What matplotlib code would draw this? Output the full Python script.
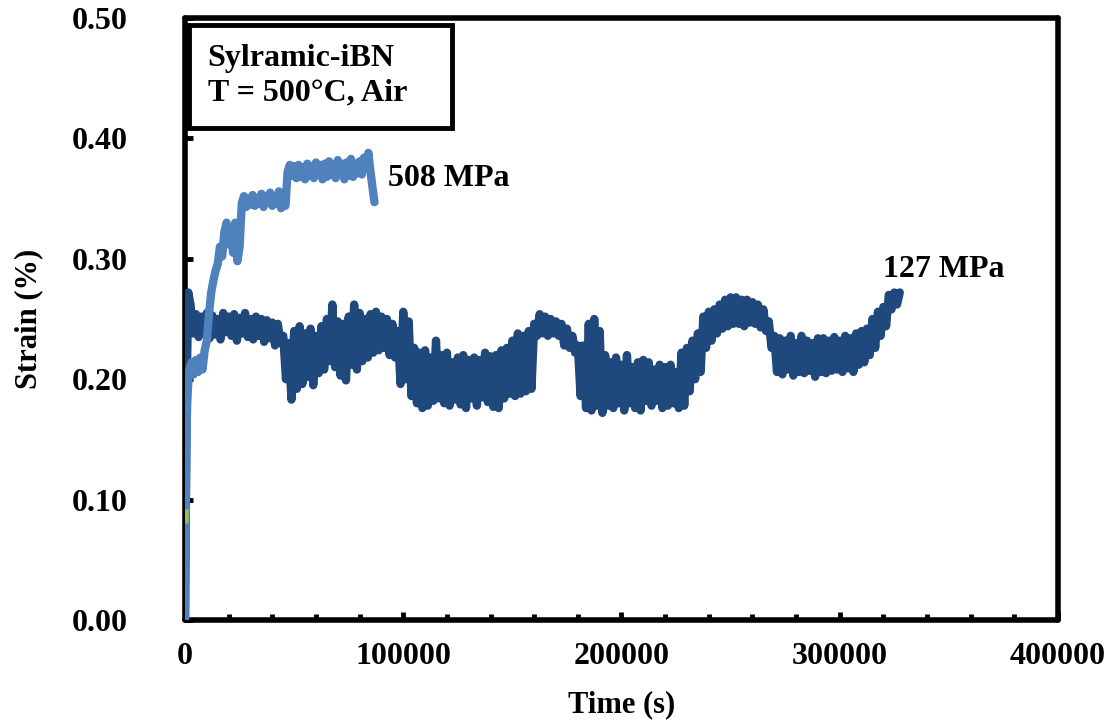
import numpy as np
import matplotlib
matplotlib.use("Agg")
import matplotlib.pyplot as plt
from matplotlib.patches import Rectangle
from matplotlib.ticker import MultipleLocator, FormatStrFormatter

plt.rcParams['font.family'] = ['Liberation Serif', 'DejaVu Serif']
plt.rcParams['font.weight'] = 'bold'

# 127 MPa creep curve: time (ks) and strain (%)
t_127 = [0, 0.5, 1.0, 1.5,
         2.5, 3.75, 5, 6.25, 7.5, 8.75, 10, 11.25,
         12.5, 13.75, 15, 16.25, 17.5, 18.75, 20, 21.25,
         22.5, 23.75, 25, 26.25, 27.5, 28.75, 30, 31.25,
         32.5, 33.75, 35, 36.25, 37.5, 38.75, 40, 41.25,
         42.5, 43.75, 45, 46.25, 47.5, 48.75, 50, 51.25,
         52.5, 53.75, 55, 56.25, 57.5, 58.75, 60, 61.25,
         62.5, 63.75, 65, 66.25, 67.5, 68.75, 70, 71.25,
         72.5, 73.75, 75, 76.25, 77.5, 78.75, 80, 81.25,
         82.5, 83.75, 85, 86.25, 87.5, 88.75, 90, 91.25,
         92.5, 93.75, 95, 96.25, 97.5, 98.75, 100, 101.25,
         102.5, 103.75, 105, 106.25, 107.5, 108.75, 110, 111.25,
         112.5, 113.75, 115, 116.25, 117.5, 118.75, 120, 121.25,
         122.5, 123.75, 125, 126.25, 127.5, 128.75, 130, 131.25,
         132.5, 133.75, 135, 136.25, 137.5, 138.75, 140, 141.25,
         142.5, 143.75, 145, 146.25, 147.5, 148.75, 150, 151.25,
         152.5, 153.75, 155, 156.25, 157.5, 158.75, 160, 161.25,
         162.5, 163.75, 165, 166.25, 167.5, 168.75, 170, 171.25,
         172.5, 173.75, 175, 176.25, 177.5, 178.75, 180, 181.25,
         182.5, 183.75, 185, 186.25, 187.5, 188.75, 190, 191.25,
         192.5, 193.75, 195, 196.25, 197.5, 198.75, 200, 201.25,
         202.5, 203.75, 205, 206.25, 207.5, 208.75, 210, 211.25,
         212.5, 213.75, 215, 216.25, 217.5, 218.75, 220, 221.25,
         222.5, 223.75, 225, 226.25, 227.5, 228.75, 230, 231.25,
         232.5, 233.75, 235, 236.25, 237.5, 238.75, 240, 241.25,
         242.5, 243.75, 245, 246.25, 247.5, 248.75, 250, 251.25,
         252.5, 253.75, 255, 256.25, 257.5, 258.75, 260, 261.25,
         262.5, 263.75, 265, 266.25, 267.5, 268.75, 270, 271.25,
         272.5, 273.75, 275, 276.25, 277.5, 278.75, 280, 281.25,
         282.5, 283.75, 285, 286.25, 287.5, 288.75, 290, 291.25,
         292.5, 293.75, 295, 296.25, 297.5, 298.75, 300, 301.25,
         302.5, 303.75, 305, 306.25, 307.5, 308.75, 310, 311.25,
         312.5, 313.75, 315, 316.25, 317.5, 318.75, 320, 321.25,
         322.5, 323.75, 325, 326.25, 327.5]
strain_127 = [0.0, 0.12, 0.22, 0.272,
              0.262, 0.238, 0.254, 0.235, 0.252, 0.240, 0.255, 0.234,
              0.253, 0.237, 0.250, 0.233, 0.255, 0.239, 0.252, 0.236,
              0.254, 0.232, 0.251, 0.238, 0.255, 0.235, 0.250, 0.233,
              0.252, 0.236, 0.250, 0.231, 0.249, 0.234, 0.247, 0.228,
              0.246, 0.230, 0.236, 0.200, 0.230, 0.183, 0.240, 0.192,
              0.244, 0.196, 0.238, 0.202, 0.242, 0.195, 0.236, 0.205,
              0.244, 0.208, 0.250, 0.215, 0.262, 0.210, 0.248, 0.203,
              0.246, 0.199, 0.252, 0.212, 0.262, 0.208, 0.255, 0.215,
              0.250, 0.218, 0.254, 0.222, 0.256, 0.224, 0.252, 0.226,
              0.250, 0.220, 0.246, 0.218, 0.240, 0.196, 0.256, 0.200,
              0.248, 0.186, 0.226, 0.180, 0.222, 0.176, 0.224, 0.178,
              0.218, 0.182, 0.232, 0.184, 0.220, 0.180, 0.222, 0.178,
              0.214, 0.183, 0.218, 0.179, 0.220, 0.176, 0.216, 0.184,
              0.218, 0.178, 0.216, 0.185, 0.222, 0.181, 0.219, 0.177,
              0.220, 0.176, 0.224, 0.184, 0.226, 0.188, 0.232, 0.186,
              0.238, 0.188, 0.236, 0.190, 0.240, 0.192, 0.246, 0.236,
              0.254, 0.238, 0.252, 0.236, 0.250, 0.238, 0.248, 0.236,
              0.246, 0.228, 0.242, 0.226, 0.236, 0.222, 0.228, 0.186,
              0.228, 0.176, 0.246, 0.174, 0.250, 0.178, 0.240, 0.172,
              0.220, 0.178, 0.214, 0.176, 0.218, 0.180, 0.212, 0.174,
              0.220, 0.180, 0.210, 0.176, 0.214, 0.174, 0.216, 0.182,
              0.214, 0.178, 0.208, 0.182, 0.212, 0.176, 0.210, 0.178,
              0.212, 0.180, 0.206, 0.176, 0.222, 0.178, 0.226, 0.190,
              0.232, 0.200, 0.238, 0.206, 0.252, 0.226, 0.256, 0.232,
              0.258, 0.238, 0.262, 0.242, 0.266, 0.244, 0.268, 0.246,
              0.268, 0.246, 0.266, 0.244, 0.266, 0.247, 0.264, 0.246,
              0.262, 0.243, 0.258, 0.240, 0.248, 0.226, 0.236, 0.206,
              0.234, 0.204, 0.232, 0.208, 0.236, 0.203, 0.230, 0.206,
              0.236, 0.205, 0.232, 0.207, 0.230, 0.202, 0.234, 0.206,
              0.234, 0.205, 0.232, 0.207, 0.235, 0.208, 0.232, 0.206,
              0.236, 0.209, 0.234, 0.206, 0.238, 0.212, 0.240, 0.214,
              0.242, 0.220, 0.250, 0.226, 0.256, 0.236, 0.260, 0.244,
              0.270, 0.258, 0.272, 0.262, 0.272]

# 508 MPa creep curve
t_508 = [0, 0.3, 0.6, 1.0, 1.5,
         2, 3, 4, 5, 6, 7, 8, 9, 10, 11,
         12, 13, 14, 15, 16, 17, 18, 19, 20, 21,
         22, 23, 24, 25, 26, 27, 28, 29, 30, 31,
         32, 33, 34, 35, 36, 37, 38, 39, 40, 41,
         42, 43, 44, 45, 46, 47, 48, 49, 50, 51,
         52, 53, 54, 55, 56, 57, 58, 59, 60, 61,
         62, 63, 64, 65, 66, 67, 68, 69, 70, 71,
         72, 73, 74, 75, 76, 77, 78, 79, 80, 81,
         82, 83, 84, 85, 86, 86.8]
strain_508 = [0.0, 0.08, 0.15, 0.18, 0.198,
              0.208, 0.214, 0.204, 0.216, 0.206, 0.218, 0.208, 0.224, 0.232, 0.255,
              0.272, 0.282, 0.290, 0.296, 0.310, 0.302, 0.322, 0.330, 0.312, 0.326,
              0.305, 0.330, 0.298, 0.310, 0.346, 0.352, 0.343, 0.350, 0.345, 0.353,
              0.344, 0.350, 0.346, 0.354, 0.343, 0.352, 0.347, 0.355, 0.344, 0.351,
              0.346, 0.356, 0.342, 0.350, 0.344, 0.372, 0.378, 0.369, 0.377, 0.367,
              0.378, 0.368, 0.376, 0.366, 0.379, 0.369, 0.377, 0.367, 0.380, 0.370,
              0.378, 0.366, 0.379, 0.368, 0.381, 0.370, 0.378, 0.367, 0.382, 0.370,
              0.379, 0.366, 0.380, 0.369, 0.383, 0.368, 0.379, 0.371, 0.381, 0.370,
              0.384, 0.376, 0.388, 0.372, 0.358, 0.347]

# tiny third trace near the origin
t_other = [0, 0.15]
strain_other = [0.083, 0.089]

c_dark = "#1F497D"
c_light = "#4F81BD"
c_green = "#9BBB59"

fig = plt.figure(figsize=(11.12, 7.23), dpi=100)
ax = fig.add_axes([0.1664, 0.1425, 0.7850, 0.8326])

ax.plot(np.array(t_127) * 1000, strain_127, color=c_dark, lw=6, zorder=3,
        solid_capstyle="round", solid_joinstyle="round")
ax.plot(np.array(t_508) * 1000, strain_508, color=c_light, lw=6, zorder=3,
        solid_capstyle="round", solid_joinstyle="round")
ax.plot(np.array(t_other) * 1000, strain_other, color=c_green, lw=5, zorder=3)

ax.set_xlim(0, 400000)
ax.set_ylim(0, 0.5)
ax.xaxis.set_major_locator(MultipleLocator(100000))
ax.xaxis.set_minor_locator(MultipleLocator(20000))
ax.yaxis.set_major_locator(MultipleLocator(0.1))
ax.yaxis.set_major_formatter(FormatStrFormatter("%.2f"))
ax.xaxis.set_major_formatter(FormatStrFormatter("%d"))

for s in ax.spines.values():
    s.set_linewidth(4)
    s.set_capstyle("round")
ax.tick_params(axis="both", which="major", direction="in", length=6, width=3.5,
               labelsize=23)
ax.tick_params(axis="x", which="minor", direction="in", length=4, width=3.5)
ax.tick_params(axis="x", which="major", pad=16)
ax.tick_params(axis="y", which="major", pad=41)
ax.tick_params(top=False, right=False)

ax.set_xlabel("Time (s)", fontsize=22, fontweight="bold", labelpad=14)
ax.set_ylabel("Strain (%)", fontsize=22, fontweight="bold", labelpad=21)

ax.add_patch(Rectangle((0.004, 0.817), 0.302, 0.171, transform=ax.transAxes,
                       fill=False, lw=3.5, ec="black", zorder=4))
ax.text(0.026, 0.956, "Sylramic-iBN\nT = 500°C, Air", transform=ax.transAxes,
        fontsize=23, fontweight="bold", va="top", ha="left", linespacing=1.22)

ax.text(93000, 0.367, "508 MPa", fontsize=23, fontweight="bold", va="center")
ax.text(320000, 0.291, "127 MPa", fontsize=23, fontweight="bold", va="center")

fig.savefig("out.png", dpi=100)
